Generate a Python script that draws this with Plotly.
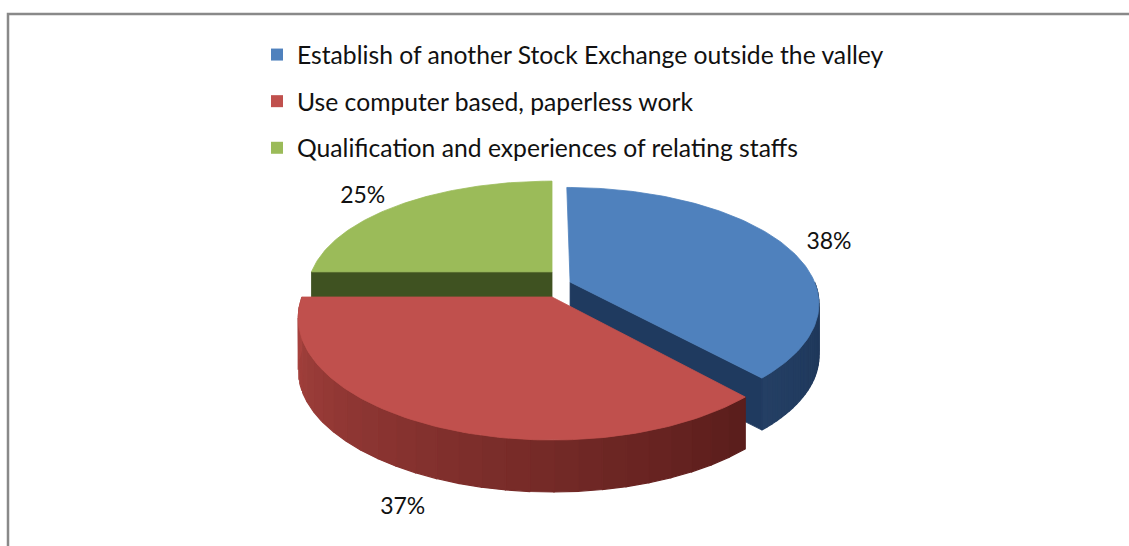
import numpy as np
import plotly.graph_objects as go

# ---- data -------------------------------------------------------------
categories = [
    "Establish of another Stock Exchange outside the valley",
    "Use computer based, paperless work",
    "Qualification and experiences of relating staffs",
]
shares = [38, 37, 25]
value_labels = ["38%", "37%", "25%"]

# ---- style ------------------------------------------------------------
top_colors = ["#4F81BD", "#C0504D", "#9BBB59"]
side_colors = ["#1F3A5F", "#8E3532", "#3F5221"]
side_light = ["#243F64", "#A9433F", "#4A5F27"]
side_dark = ["#1C3456", "#5A1D1B", "#35461B"]
explode = [(0.074, -0.126), (0.0, 0.0), (0.0, -0.215)]  # slice offsets in disc units
label_r = [1.25, 1.25, 1.35]     # label distance from centre, in radii
label_h = [0.2, 0.83, 0.25]      # label drop, in disc thicknesses
FONT = "Lato"

W, H = 1129, 546
CX, CY = 552.0, 297.0        # centre of the top face
RX, RY = 250.0, 121.5        # half-axes of the tilted disc
PERSP = 0.177                # near edge drawn larger than far edge
DEPTH = 52.0                 # thickness of the disc


def project(u, v, h=0.0):
    """Map a point of the unit disc (v toward the viewer) to the page."""
    u = np.asarray(u, dtype=float)
    v = np.asarray(v, dtype=float)
    s = 1.0 + PERSP * v
    return CX + RX * u * s, CY + RY * v * s + h * DEPTH


def rim(theta_deg, off, r=1.0):
    t = np.radians(theta_deg)
    return r * np.sin(t) + off[0], -r * np.cos(t) + off[1]


def hex_mix(c1, c2, f):
    a = [int(c1[i:i + 2], 16) for i in (1, 3, 5)]
    b = [int(c2[i:i + 2], 16) for i in (1, 3, 5)]
    m = [round(a[k] + (b[k] - a[k]) * f) for k in range(3)]
    return "#%02x%02x%02x" % tuple(m)


def poly(xs, ys, color, line_w=0.8):
    return go.Scatter(
        x=list(xs) + [xs[0]], y=list(ys) + [ys[0]],
        mode="lines", fill="toself", fillcolor=color,
        line=dict(color=color, width=line_w),
        hoverinfo="skip", showlegend=False,
    )


total = float(sum(shares))
bounds = np.concatenate([[0.0], np.cumsum(shares) / total * 360.0])
spans = [(bounds[i], bounds[i + 1]) for i in range(len(shares))]

outer_walls, radial_walls, tops = {}, {}, {}

for i, (a0, a1) in enumerate(spans):
    off = explode[i]
    # top face
    th = np.linspace(a0, a1, 120)
    u, v = rim(th, off)
    xs, ys = project(u, v)
    cx, cy = project(off[0], off[1])
    tops[i] = poly(np.r_[cx, xs], np.r_[cy, ys], top_colors[i])

    # visible part of the curved outer wall (front half of the disc)
    lo, hi = max(a0, 90.0), min(a1, 270.0)
    segs = []
    if hi > lo:
        n = 28
        edges = np.linspace(lo, hi, n + 1)
        for k in range(n):
            tt = np.linspace(edges[k], edges[k + 1], 8)
            uu, vv = rim(tt, off)
            xt, yt = project(uu, vv, 0.0)
            xb, yb = project(uu, vv, 1.0)
            f = (k + 0.5) / n
            col = hex_mix(side_dark[i], side_light[i], f)
            segs.append(poly(np.r_[xt, xb[::-1]], np.r_[yt, yb[::-1]], col, 1.2))
    outer_walls[i] = segs

    # flat cut faces that turn toward the viewer
    faces = []
    for ang in (a0, a1):
        t = np.radians(ang)
        sign = -1.0 if ang == a0 else 1.0
        nv = sign * np.sin(t)  # > 0 when the face looks toward the viewer
        if nv > 0.05 and (off[0] != 0.0 or off[1] != 0.0):
            uu, vv = rim(ang, off)
            x_ct, y_ct = project(off[0], off[1], 0.0)
            x_cb, y_cb = project(off[0], off[1], 1.0)
            x_rt, y_rt = project(uu, vv, 0.0)
            x_rb, y_rb = project(uu, vv, 1.0)
            faces.append(poly([x_ct, x_rt, x_rb, x_cb],
                              [y_ct, y_rt, y_rb, y_cb], side_colors[i]))
    radial_walls[i] = faces

fig = go.Figure()

# back-to-front painting order
for tr in outer_walls[0] + radial_walls[0] + radial_walls[2]:
    fig.add_trace(tr)
fig.add_trace(tops[0])
fig.add_trace(tops[2])
for tr in outer_walls[1]:
    fig.add_trace(tr)
fig.add_trace(tops[1])

# percentage labels outside the rim
lab_x, lab_y = [], []
for i, (a0, a1) in enumerate(spans):
    mid = 0.5 * (a0 + a1)
    u, v = rim(mid, explode[i], label_r[i])
    x, y = project(u, v, label_h[i])
    lab_x.append(float(x))
    lab_y.append(float(y))
fig.add_trace(go.Scatter(
    x=lab_x, y=lab_y, mode="text", text=value_labels,
    textfont=dict(family=FONT, size=23, color="#111111"),
    hoverinfo="skip", showlegend=False,
))

# legend entries
for i, name in enumerate(categories):
    fig.add_trace(go.Scatter(
        x=[None], y=[None], mode="markers", name=name,
        marker=dict(symbol="square", size=15, color=top_colors[i]),
        legendgroup=f"g{i}",
    ))

fig.update_layout(
    width=W, height=H,
    margin=dict(l=0, r=0, t=0, b=0),
    paper_bgcolor="white", plot_bgcolor="white",
    xaxis=dict(range=[0, W], visible=False, fixedrange=True),
    yaxis=dict(range=[H, 0], visible=False, fixedrange=True),
    legend=dict(
        x=257 / W, y=1 - 32 / H, xanchor="left", yanchor="top",
        font=dict(family=FONT, size=24.7, color="#111111"),
        tracegroupgap=11.5, bgcolor="rgba(0,0,0,0)",
        itemsizing="constant",
    ),
    shapes=[dict(type="rect", xref="x", yref="y", x0=8, y0=14, x1=W + 10, y1=H + 10,
                 line=dict(color="#898989", width=2.5), fillcolor="rgba(0,0,0,0)",
                 layer="below")],
    showlegend=True,
)

fig.write_html("out.html")
